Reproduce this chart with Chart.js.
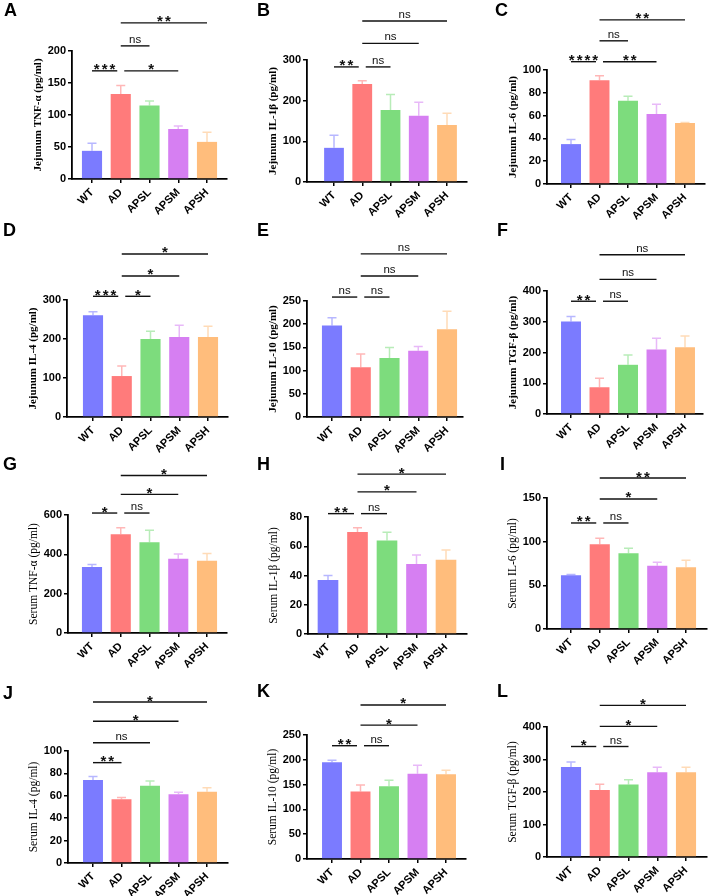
<!DOCTYPE html>
<html><head><meta charset="utf-8">
<script src="https://cdn.jsdelivr.net/npm/chart.js@4/dist/chart.umd.min.js"></script>
<style>
body{margin:0;background:#fff;width:709px;height:896px;position:relative;overflow:hidden}
canvas{position:absolute}
.lt{position:absolute;font:bold 18px 'Liberation Sans',Arial,sans-serif;line-height:1;color:#000}
</style></head><body>
<script>
// ---------- data ----------
const groups = ['WT','AD','APSL','APSM','APSH'];
const barColors = ['#7b7bff','#ff7b7b','#7ddc7d','#d67ff2','#ffbd7c'];

const meanA = [44,133,115,78,58];      const errA = [12,13,7,5,15];
const meanB = [84,241,177,163,140];    const errB = [31,8,38,33,29];
const meanC = [35,91,73,61.5,53.5];    const errC = [4,4,4,8.5,0.5];
const meanD = [261,105,200,205,205];   const errD = [9,26,20,30,28];
const meanE = [197,107,127,143,189];   const errE = [17,29,23,9,39];
const meanF = [301,87,160,210,217];    const errF = [16,29,32,36,37];
const meanG = [336,502,461,377,367];   const errG = [12,33,61,25,37];
const meanH = [37,69.7,64,47.8,50.7];  const errH = [3,3,5.5,6.2,6.7];
const meanI = [61.5,97,86.7,72.5,70.6];const errI = [1,6.8,5.7,3.8,8];
const meanJ = [74,57,69,61.3,63.7];    const errJ = [3.3,1.5,4.2,1.8,3.5];
const meanK = [195,136,146.6,172,171]; const errK = [4,13,12,17,8];
const meanL = [277,206,223,261,261];   const errL = [15,18,15,15,15];

// significance comparisons: [group a, group b, bracket level (axis units), label]
const sigA = [[0,1,169,'***'],[1,2,208,'ns'],[1,3,169,'*'],[1,4,244,'**']];
const sigB = [[0,1,283,'**'],[1,2,283,'ns'],[1,3,341,'ns'],[1,4,396,'ns']];
const sigC = [[0,1,107.3,'****'],[1,2,125.6,'ns'],[1,3,107.3,'**'],[1,4,144,'**']];
const sigD = [[0,1,309.5,'***'],[1,2,309.5,'*'],[1,3,361.7,'*'],[1,4,418,'*']];
const sigE = [[0,1,258.5,'ns'],[1,2,258.5,'ns'],[1,3,304,'ns'],[1,4,351.6,'ns']];
const sigF = [[0,1,366.7,'**'],[1,2,366.7,'ns'],[1,3,437.9,'ns'],[1,4,517.8,'ns']];
const sigG = [[0,1,610,'*'],[1,2,610,'ns'],[1,3,705,'*'],[1,4,801,'*']];
const sigH = [[0,1,82.3,'**'],[1,2,82.3,'ns'],[1,3,97.2,'*'],[1,4,109.3,'*']];
const sigI = [[0,1,121.4,'**'],[1,2,121.4,'ns'],[1,3,148.9,'*'],[1,4,172.9,'**']];
const sigJ = [[0,1,89.6,'**'],[0,2,107.4,'ns'],[0,3,126.5,'*'],[0,4,143.75,'*']];
const sigK = [[0,1,228.4,'**'],[1,2,228.4,'ns'],[1,3,270,'*'],[1,4,310.5,'*']];
const sigL = [[0,1,340,'*'],[1,2,340,'ns'],[1,3,401.8,'*'],[1,4,466.5,'*']];

const yMax  = {A:200,B:300,C:100,D:300,E:250,F:400,G:600,H:80,I:150,J:100,K:250,L:400};
const yStep = {A:50,B:100,C:20,D:100,E:50,F:100,G:200,H:20,I:50,J:20,K:50,L:100};
const titles = {
  A:'Jejunum TNF-α (pg/ml)', B:'Jejunum IL-1β (pg/ml)', C:'Jejunum IL-6 (pg/ml)',
  D:'Jejunum IL-4 (pg/ml)',  E:'Jejunum IL-10 (pg/ml)', F:'Jejunum TGF-β (pg/ml)',
  G:'Serum TNF-α (pg/ml)',   H:'Serum IL-1β (pg/ml)',   I:'Serum IL-6 (pg/ml)',
  J:'Serum IL-4 (pg/ml)',    K:'Serum IL-10 (pg/ml)',   L:'Serum TGF-β (pg/ml)'
};

// ---------- layout (page pixels): axis left, axis right, top tick y, zero y, first/last bar centre ----------
const layoutBox = {
  A:[72,227,51,179,92,207],       B:[307,467,60,182,334,447],     C:[547,705,70,184,571,685],
  D:[67,228,300,417,93,208],      E:[307,463,301,417,332,447],    F:[547,703,291,414,571,685],
  G:[68,227,515,633,92,207],      H:[308,467,517,634,328,446],    I:[547,707,498,629,571,686],
  J:[68,228,751,863,93,207],      K:[307,466,735,859,332,446],    L:[547,707,727,857,571,686]
};
const letterPos = {A:[4,1],B:[257,1],C:[495,1],D:[3,221],E:[257,221],F:[497,221],
  G:[3,455],H:[257,455],I:[500,455],J:[3,684],K:[257,682],L:[497,682]};

const panels = {
  A:[meanA,errA,sigA],B:[meanB,errB,sigB],C:[meanC,errC,sigC],D:[meanD,errD,sigD],
  E:[meanE,errE,sigE],F:[meanF,errF,sigF],G:[meanG,errG,sigG],H:[meanH,errH,sigH],
  I:[meanI,errI,sigI],J:[meanJ,errJ,sigJ],K:[meanK,errK,sigK],L:[meanL,errL,sigL]
};

// ---------- plugin: error bars + significance brackets ----------
const marksPlugin = {
  id:'marks',
  afterDatasetsDraw(chart){
    const p = chart.options.plugins.marks;
    const ctx = chart.ctx, xs = chart.scales.x, ys = chart.scales.y;
    ctx.save();
    p.means.forEach((m,i)=>{
      const px = xs.getPixelForValue(i);
      const y0 = ys.getPixelForValue(m), y1 = ys.getPixelForValue(m + p.errs[i]);
      ctx.globalAlpha = 0.55;
      ctx.strokeStyle = barColors[i];
      ctx.lineWidth = 1.5;
      ctx.beginPath();
      ctx.moveTo(px,y0); ctx.lineTo(px,y1);
      ctx.moveTo(px-4.5,y1); ctx.lineTo(px+4.5,y1);
      ctx.stroke();
    });
    ctx.globalAlpha = 1;
    p.sig.forEach((s,k)=>{
      const [a,b,lv,txt] = s;
      let xa = xs.getPixelForValue(a), xb = xs.getPixelForValue(b);
      const yl = ys.getPixelForValue(lv);
      if (p.sig.some((o,j)=>j!==k && o[2]===lv && o[1]===a)) xa += 3.5;
      if (p.sig.some((o,j)=>j!==k && o[2]===lv && o[0]===b)) xb -= 3.5;
      ctx.strokeStyle = '#111';
      ctx.lineWidth = 1.4;
      ctx.beginPath(); ctx.moveTo(xa,yl); ctx.lineTo(xb,yl); ctx.stroke();
      ctx.fillStyle = '#111';
      ctx.textAlign = 'center';
      ctx.textBaseline = 'alphabetic';
      const cx = (xa+xb)/2;
      if (txt === 'ns'){
        ctx.font = "11.5px 'Liberation Sans', Arial, sans-serif";
        ctx.letterSpacing = '0px';
        ctx.fillText(txt, cx, yl-3);
      } else {
        ctx.font = "bold 15px 'Liberation Sans', Arial, sans-serif";
        ctx.letterSpacing = '2px';
        ctx.fillText(txt, cx+1, yl+3.5);
        ctx.letterSpacing = '0px';
      }
    });
    ctx.restore();
  }
};

// ---------- build ----------
const tickFont = {family:"'Liberation Sans', Arial, sans-serif", size:11, weight:'bold'};

Object.keys(panels).forEach(key=>{
  const [means, errs, sig] = panels[key];
  const [L,R,T,B,c0,c4] = layoutBox[key];
  const LEFTW = 62, TOPP = 75, RIGHTP = 10, BOTH = 60;
  const cv = document.createElement('canvas');
  const left = L - LEFTW, top = T - TOPP;
  const w = R + RIGHTP - left, h = B + BOTH - top;
  cv.width = w; cv.height = h;
  cv.style.left = left+'px'; cv.style.top = top+'px';
  cv.style.width = w+'px'; cv.style.height = h+'px';
  document.body.appendChild(cv);

  const sp = (c4-c0)/4;
  const xmin = -(c0-L)/sp, xmax = 4 + (R-c4)/sp;
  const serum = key >= 'G';

  new Chart(cv.getContext('2d'), {
    type:'bar',
    data:{ datasets:[{
      data: means.map((v,i)=>({x:i, y:v})),
      backgroundColor: barColors,
      borderWidth:0,
      barPercentage:0.7, categoryPercentage:1
    }]},
    options:{
      responsive:false, animation:false, devicePixelRatio:1,
      layout:{padding:{top:TOPP,right:RIGHTP,bottom:0,left:0}},
      plugins:{legend:{display:false}, tooltip:{enabled:false},
        marks:{means, errs, sig}},
      scales:{
        x:{
          type:'linear', min:xmin, max:xmax, offset:false,
          afterBuildTicks:(s)=>{ s.ticks = groups.map((g,i)=>({value:i})); },
          afterFit:(s)=>{ s.height = BOTH; },
          grid:{display:true, drawOnChartArea:false, drawTicks:true, tickLength:4, color:'#000', lineWidth:1.5, offset:false},
          border:{display:true, color:'#000', width:1.8},
          ticks:{autoSkip:false, minRotation:45, maxRotation:45, padding:3, color:'#000', font:tickFont,
            callback:(v)=>groups[v]}
        },
        y:{
          min:0, max:yMax[key],
          afterFit:(s)=>{ s.width = LEFTW; },
          grid:{display:true, drawOnChartArea:false, drawTicks:true, tickLength:4, color:'#000', lineWidth:1.5},
          border:{display:true, color:'#000', width:1.8},
          ticks:{stepSize:yStep[key], padding:2, color:'#000', font:tickFont},
          title:{display:true, text:titles[key], color:'#000',
            padding:{top: LEFTW - 34 - (serum?6.9:6.6), bottom:0},
            font:{family:"'Liberation Serif','Times New Roman',serif", size: serum?11.5:11, weight: serum?'normal':'bold'}}
        }
      }
    },
    plugins:[marksPlugin]
  });
});

Object.keys(letterPos).forEach(k=>{
  const d = document.createElement('div');
  d.className = 'lt'; d.textContent = k;
  d.style.left = letterPos[k][0]+'px'; d.style.top = letterPos[k][1]+'px';
  document.body.appendChild(d);
});
</script>
</body></html>
